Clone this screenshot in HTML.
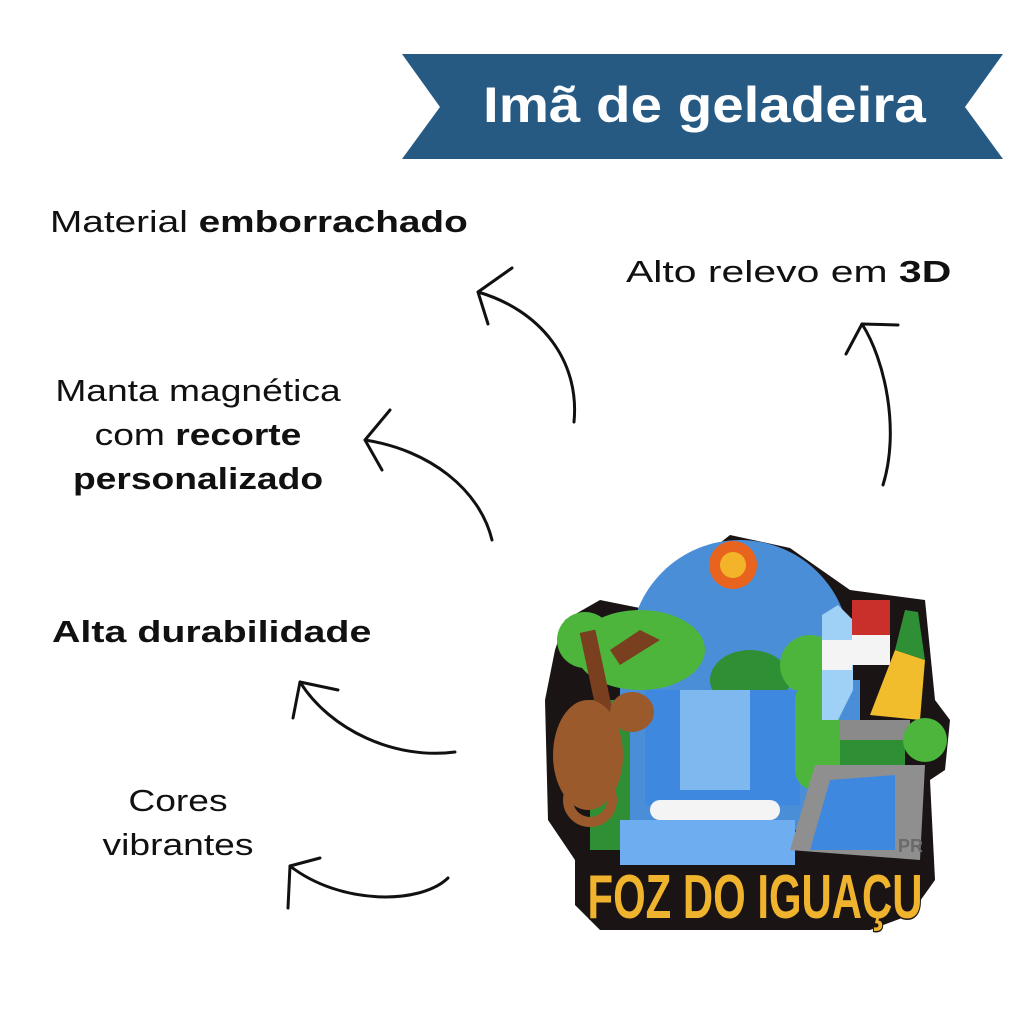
<!DOCTYPE html>
<html><head><meta charset="utf-8"><style>
html,body{margin:0;padding:0;background:#fff;}
body{width:1024px;height:1024px;position:relative;overflow:hidden;font-family:"Liberation Sans",sans-serif;color:#111;}
.t{position:absolute;font-size:31px;white-space:nowrap;line-height:1;transform-origin:0 0;}
.c{text-align:center;}
b{font-weight:bold;}
</style></head><body>
<svg width="1024" height="1024" style="position:absolute;left:0;top:0">
<polygon points="402,54 1003,54 965,107 1003,159 402,159 440,107" fill="#275a83"/>
<g fill="none" stroke="#111" stroke-width="3" stroke-linecap="round" stroke-linejoin="round">
<path d="M574,422 C580,360 540,310 478,292"/><path d="M512,268 L478,292 L488,324"/>
<path d="M883,485 C900,430 885,360 862,324"/><path d="M846,354 L862,324 L898,325"/>
<path d="M492,540 C480,490 430,450 365,440"/><path d="M390,410 L365,440 L382,470"/>
<path d="M455,752 C395,760 330,730 300,682"/><path d="M293,718 L300,682 L338,690"/>
<path d="M448,878 C420,905 340,905 290,866"/><path d="M288,908 L290,866 L320,858"/>
</g>
<g>
<path d="M565,620 L600,600 L650,610 L680,575 L730,535 L790,548 L850,590 L925,600 L935,700 L950,720 L945,770 L930,780 L935,880 L910,915 L870,930 L600,930 L575,905 L575,860 L548,820 L545,700 L555,650 Z" fill="#1a1414"/>
<circle cx="740" cy="650" r="110" fill="#4a8ed8"/>
<rect x="620" y="680" width="240" height="150" fill="#4a8ed8"/>
<circle cx="733" cy="565" r="24" fill="#e8641e"/><circle cx="733" cy="565" r="13" fill="#f3b42a"/>
<ellipse cx="640" cy="650" rx="65" ry="40" fill="#4db53c"/>
<ellipse cx="585" cy="640" rx="28" ry="28" fill="#4db53c"/>
<ellipse cx="750" cy="680" rx="40" ry="30" fill="#2f8f35"/>
<ellipse cx="810" cy="665" rx="30" ry="30" fill="#4db53c"/>
<rect x="590" y="700" width="40" height="150" fill="#2f8f35"/>
<rect x="645" y="690" width="155" height="115" fill="#3f88e0"/>
<rect x="680" y="690" width="70" height="100" fill="#7fb7ef"/>
<rect x="795" y="680" width="45" height="110" rx="20" fill="#4db53c"/>
<rect x="650" y="800" width="130" height="20" rx="10" fill="#f4f4f4"/>
<rect x="620" y="820" width="175" height="45" fill="#6eaef0"/>
<polygon points="822,615 838,605 853,620 853,690 838,720 822,720" fill="#9fd0f5"/>
<rect x="852" y="600" width="38" height="35" fill="#c9302c"/>
<rect x="852" y="635" width="38" height="30" fill="#f4f4f4"/>
<rect x="822" y="640" width="30" height="30" fill="#f4f4f4"/>
<polygon points="870,715 895,650 925,660 920,720" fill="#f1bd2c"/>
<polygon points="895,650 905,610 918,612 925,660" fill="#2f8f35"/>
<rect x="840" y="720" width="70" height="20" fill="#8a8a8a"/>
<rect x="840" y="740" width="65" height="25" fill="#2f8f35"/>
<circle cx="925" cy="740" r="22" fill="#4db53c"/>
<path d="M790,850 L815,765 L925,765 L920,860 Z" fill="#8f8f8f"/>
<path d="M810,850 L830,780 L895,775 L895,850 Z" fill="#3f88e0"/>
<path d="M610,650 L640,630 L660,640 L620,665 Z" fill="#7a3f1e"/>
<rect x="592" y="630" width="16" height="115" fill="#7a3f1e" transform="rotate(-12 600 690)"/>
<ellipse cx="588" cy="755" rx="35" ry="55" fill="#9a5a2c"/>
<ellipse cx="632" cy="712" rx="22" ry="20" fill="#9a5a2c"/>
<circle cx="590" cy="800" r="22" fill="none" stroke="#9a5a2c" stroke-width="10"/>
<text x="755" y="918" text-anchor="middle" font-family="Liberation Sans" font-weight="bold" font-size="62" fill="#f0b32e" stroke="#1a1414" stroke-width="3" paint-order="stroke" textLength="335" lengthAdjust="spacingAndGlyphs">FOZ DO IGUAÇU</text>
<text x="898" y="852" font-family="Liberation Sans" font-weight="bold" font-size="18" fill="#6a6a6a">PR</text>
</g>
</svg>
<div class="t" style="left:483px;top:80px;color:#fff;font-size:50px;font-weight:bold;transform:scaleX(1.13);">Imã de geladeira</div>
<div class="t" style="left:50px;top:206px;transform:scaleX(1.25);">Material <b>emborrachado</b></div>
<div class="t" style="left:626px;top:256px;transform:scaleX(1.32);">Alto relevo em <b>3D</b></div>
<div class="t c" style="left:48px;width:300px;top:369px;line-height:44px;transform:scaleX(1.2);transform-origin:150px 0;left:48px;">Manta magnética<br>com <b>recorte</b><br><b>personalizado</b></div>
<div class="t" style="left:52px;top:616px;transform:scaleX(1.27);"><b>Alta durabilidade</b></div>
<div class="t c" style="left:78px;width:200px;top:779px;line-height:44px;transform:scaleX(1.2);transform-origin:100px 0;">Cores<br>vibrantes</div>
</body></html>
